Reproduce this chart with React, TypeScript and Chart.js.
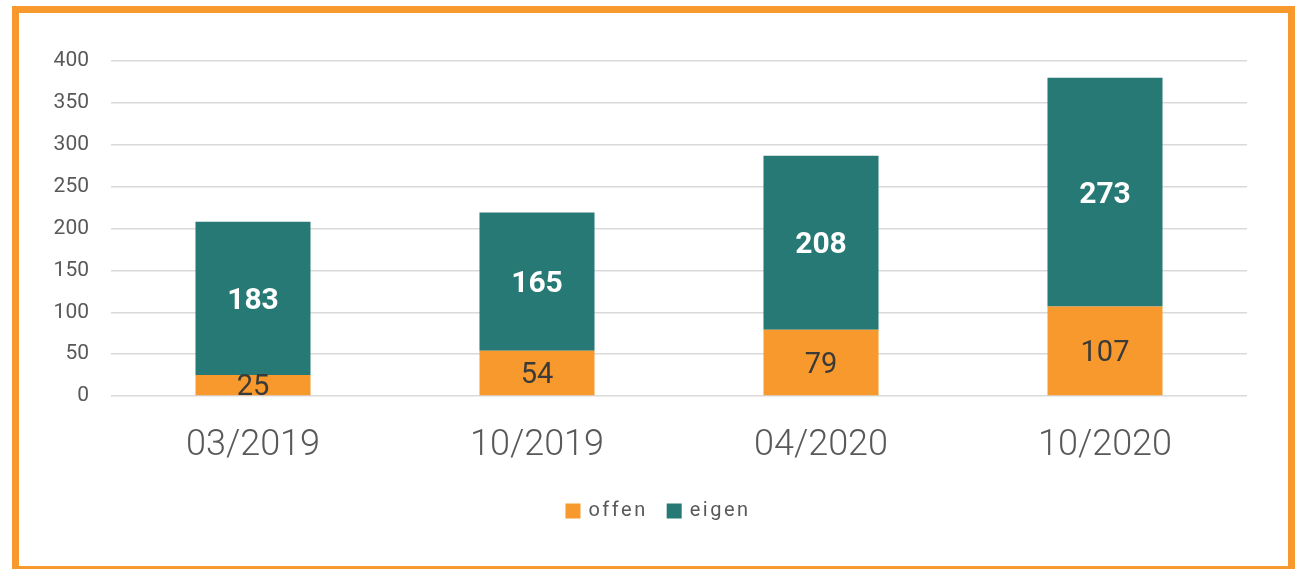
import React, { useEffect, useRef } from "react";
import { Chart, registerables } from "chart.js";

Chart.register(...registerables);

const categories = ["03/2019", "10/2019", "04/2020", "10/2020"];
const offenValues = [25, 54, 79, 107];
const eigenValues = [183, 165, 208, 273];
const seriesNames = ["offen", "eigen"];
const yMin = 0;
const yMax = 400;
const yStep = 50;

const ORANGE = "#F7992C";
const TEAL = "#267975";
const GREY = "#595959";

const W = 1297;
const H = 569;

const labelPlugin = {
  id: "segLabels",
  afterDatasetsDraw(chart: any) {
    const ctx = chart.ctx;
    ctx.save();
    ctx.textAlign = "center";
    ctx.textBaseline = "middle";
    chart.data.datasets.forEach((ds: any, di: number) => {
      const meta = chart.getDatasetMeta(di);
      meta.data.forEach((el: any, i: number) => {
        const p = el.getProps(["x", "y", "base"], true);
        const cy = (p.y + p.base) / 2;
        if (di === 1) {
          ctx.font = "bold 30px Roboto";
          ctx.fillStyle = "#ffffff";
        } else {
          ctx.font = "29px Roboto";
          ctx.fillStyle = "#3a3a3a";
        }
        ctx.fillText(String(ds.data[i]), p.x, cy + 3);
      });
    });
    ctx.restore();
  },
};

const legendPlugin = {
  id: "customLegend",
  afterDraw(chart: any) {
    const ctx = chart.ctx;
    ctx.save();
    ctx.font = "20px Roboto";
    (ctx as any).letterSpacing = "2.5px";
    ctx.textBaseline = "middle";
    ctx.textAlign = "left";
    const box = 15;
    const gap = 8;
    const itemGap = 19;
    const items = chart.data.datasets.map((ds: any) => ({
      label: ds.label,
      color: ds.backgroundColor,
      w: ctx.measureText(ds.label).width,
    }));
    const total =
      items.reduce((s: number, it: any) => s + box + gap + it.w, 0) +
      itemGap * (items.length - 1);
    let x = 658 - total / 2;
    const cy = 511;
    items.forEach((it: any) => {
      ctx.fillStyle = it.color;
      ctx.fillRect(x, cy - box / 2, box, box);
      x += box + gap;
      ctx.fillStyle = GREY;
      ctx.fillText(it.label, x, cy);
      x += it.w + itemGap;
    });
    ctx.restore();
  },
};

export default function App() {
  const ref = useRef<HTMLCanvasElement | null>(null);
  useEffect(() => {
    if (!ref.current) return;
    const chart = new Chart(ref.current, {
      type: "bar",
      data: {
        labels: categories,
        datasets: [
          {
            label: seriesNames[0],
            data: offenValues,
            backgroundColor: ORANGE,
            borderWidth: 0,
            barPercentage: 0.405,
            categoryPercentage: 1,
          },
          {
            label: seriesNames[1],
            data: eigenValues,
            backgroundColor: TEAL,
            borderWidth: 0,
            barPercentage: 0.405,
            categoryPercentage: 1,
          },
        ],
      },
      options: {
        responsive: false,
        animation: false,
        devicePixelRatio: 1,
        layout: { padding: { top: 61, right: 50, left: 0, bottom: 0 } },
        plugins: {
          legend: { display: false },
          tooltip: { enabled: false },
        },
        scales: {
          x: {
            stacked: true,
            grid: { display: false },
            border: { display: false },
            ticks: {
              color: GREY,
              font: { family: "Roboto", size: 36, weight: "300" },
              padding: 20,
              maxRotation: 0,
            },
            afterFit: (s: any) => {
              s.height = H - 396;
            },
          },
          y: {
            stacked: true,
            min: yMin,
            max: yMax,
            grid: { color: "#D9D9D9", lineWidth: 1.5, drawTicks: false },
            border: { display: false },
            ticks: {
              stepSize: yStep,
              color: GREY,
              font: { family: "Roboto", size: 21 },
              padding: 22,
            },
            afterFit: (s: any) => {
              s.width = 111;
            },
          },
        },
      },
      plugins: [labelPlugin, legendPlugin],
    });
    return () => chart.destroy();
  }, []);

  return (
    <div
      style={{
        position: "absolute",
        left: 0,
        top: 0,
        width: W,
        height: H,
        background: "#ffffff",
        overflow: "hidden",
      }}
    >
      <canvas
        ref={ref}
        width={W}
        height={H}
        style={{ position: "absolute", left: 0, top: 0, width: W, height: H }}
      />
      <div
        style={{
          position: "absolute",
          left: 12,
          top: 6,
          width: 1283,
          height: 567,
          border: `7px solid ${ORANGE}`,
          boxSizing: "border-box",
          pointerEvents: "none",
        }}
      />
    </div>
  );
}
